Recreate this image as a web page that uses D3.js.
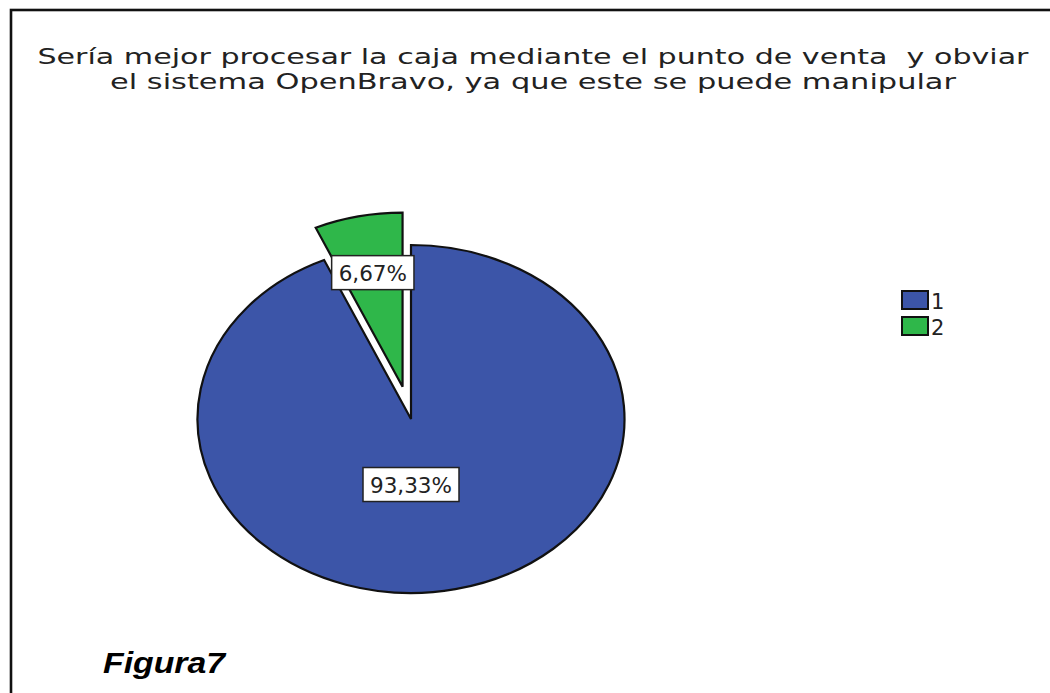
<!DOCTYPE html>
<html><head><meta charset="utf-8">
<script src="https://cdn.jsdelivr.net/npm/d3@7"></script>
<style>html,body{margin:0;padding:0;background:#fff;}svg{display:block;}</style>
</head><body>
<svg id="chart" width="1050" height="693"></svg>
<script>
const titleLines = ["Sería mejor procesar la caja mediante el punto de venta  y obviar", "el sistema OpenBravo, ya que este se puede manipular"];
const categories = ["1", "2"];
const values = [93.33, 6.67];
const valueLabels = ["93,33%", "6,67%"];
const colors = ["#3c55a8", "#2fb74a"];
const exploded = [0, 1];
const caption = "Figura7";

const svg = d3.select("#chart");

// frame
svg.append("rect").attr("x", 11).attr("y", 10).attr("width", 1200).attr("height", 1000)
  .attr("fill", "none").attr("stroke", "#111").attr("stroke-width", 2.6);

// title
const titleW = [991, 846];
titleLines.forEach((t, i) => {
  svg.append("text").attr("text-anchor", "middle").attr("font-family", "DejaVu Sans")
    .attr("font-size", 22).attr("fill", "#222").style("white-space", "pre")
    .attr("x", 533).attr("y", 63.5 + i * 25.5)
    .attr("textLength", titleW[i]).attr("lengthAdjust", "spacingAndGlyphs")
    .text(t);
});

// pie
const cx = 411, cy = 419, R = 174, sx = 213.5 / 174;
const pie = d3.pie().sort(null).value(d => d).startAngle(0).endAngle(2 * Math.PI);
const arcs = pie(values);
const arc = d3.arc().innerRadius(0).outerRadius(R);
const g = svg.append("g").attr("transform", `translate(${cx},${cy}) scale(${sx},1)`);
const explodeR = 0.19 * R;
arcs.forEach((a, i) => {
  const mid = (a.startAngle + a.endAngle) / 2;
  const off = exploded[i] ? explodeR : 0;
  g.append("path").attr("d", arc(a))
    .attr("transform", `translate(${Math.sin(mid) * off},${-Math.cos(mid) * off})`)
    .attr("fill", colors[i]).attr("stroke", "#111").attr("stroke-width", 2.2)
    .attr("stroke-linejoin", "miter")
    .attr("vector-effect", "non-scaling-stroke");
});

// value labels
const labelR = [0.385, 0.67];
arcs.forEach((a, i) => {
  const mid = (a.startAngle + a.endAngle) / 2;
  const off = exploded[i] ? explodeR : 0;
  const r = off + labelR[i] * R;
  const lx = cx + Math.sin(mid) * r * sx * (i === 0 ? 0 : 1);
  const ly = cy - Math.cos(mid) * r;
  const lg = svg.append("g");
  const txt = lg.append("text").attr("x", lx).attr("y", ly + 8)
    .attr("text-anchor", "middle").attr("font-family", "DejaVu Sans")
    .attr("font-size", 21.5).attr("fill", "#222").text(valueLabels[i]);
  const bb = txt.node().getBBox();
  lg.insert("rect", "text").attr("x", bb.x - 7).attr("y", ly - 17)
    .attr("width", bb.width + 14).attr("height", 34)
    .attr("fill", "#fff").attr("stroke", "#222").attr("stroke-width", 1.5);
});

// legend
const lgd = svg.append("g");
categories.forEach((c, i) => {
  const y = 291 + i * 26;
  lgd.append("rect").attr("x", 902).attr("y", y).attr("width", 26).attr("height", 18)
    .attr("fill", colors[i]).attr("stroke", "#111").attr("stroke-width", 2);
  lgd.append("text").attr("x", 931).attr("y", y + 18).attr("font-family", "DejaVu Sans")
    .attr("font-size", 21).attr("fill", "#222").text(c);
});

// caption
svg.append("text").attr("x", 103).attr("y", 673).attr("font-family", "Liberation Sans")
  .attr("font-weight", "bold").attr("font-style", "italic").attr("font-size", 29)
  .attr("fill", "#000").attr("textLength", 122).attr("lengthAdjust", "spacingAndGlyphs")
  .text(caption);
</script>
</body></html>
